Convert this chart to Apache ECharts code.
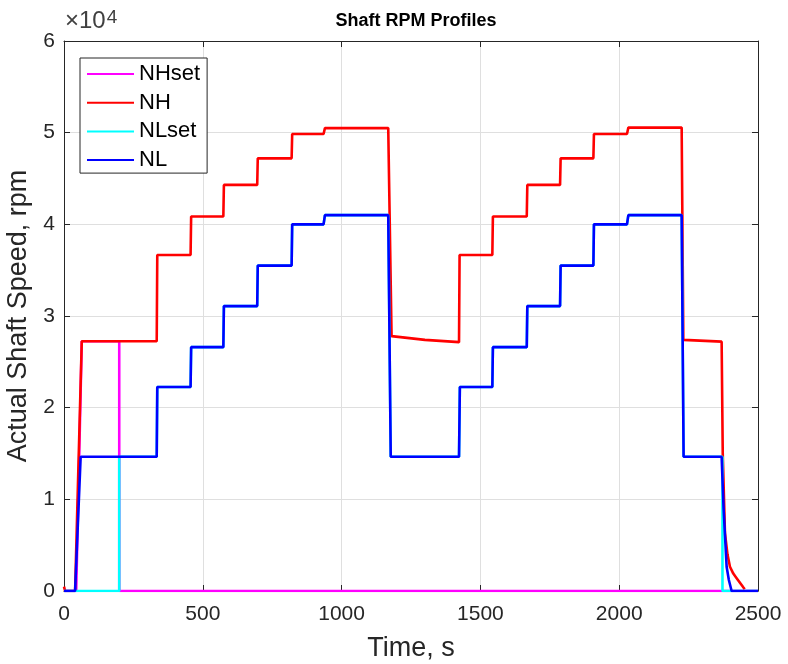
<!DOCTYPE html>
<html>
<head>
<meta charset="utf-8">
<script src="https://cdn.jsdelivr.net/npm/echarts@6/dist/echarts.min.js"></script>
<style>
  html, body { margin: 0; padding: 0; background: #fff; }
  #main { width: 788px; height: 664px; }
</style>
</head>
<body>
<div id="main"></div>
<script>
// series names (legend order = draw order)
const seriesNames = ['NHset', 'NH', 'NLset', 'NL'];
const seriesColors = ['#ff00ff', '#ff0000', '#00ffff', '#0000ff'];

// [time s, rpm]
const nhSetPoints = [
  [0, 0], [44, 0], [64, 27250], [199, 27250], [199, 0], [2500, 0]
];

const nhPoints = [
  [0, 470], [4, 0], [40, 0], [64, 27250], [334, 27250],
  [336, 36650], [456, 36650], [458, 40850], [574, 40850],
  [576, 44300], [696, 44300], [698, 47200], [820, 47200],
  [822, 49850], [935, 49850], [940, 50500], [1168, 50500],
  [1180, 27800], [1300, 27400], [1423, 27150],
  [1425, 36650], [1543, 36650], [1545, 40850], [1667, 40850],
  [1669, 44300], [1787, 44300], [1789, 47200], [1907, 47200],
  [1909, 49850], [2028, 49850], [2033, 50550], [2225, 50550],
  [2231, 27400], [2369, 27200], [2373, 15000], [2381, 6300],
  [2390, 4000], [2399, 2650], [2411, 1900], [2423, 1400],
  [2435, 900], [2447, 400], [2452, 200]
];

const nlSetPoints = [
  [0, 0], [199, 0], [199, 14650], [334, 14650],
  [336, 22250], [456, 22250], [458, 26600], [574, 26600],
  [576, 31080], [696, 31080], [698, 35500], [820, 35500],
  [822, 40000], [935, 40000], [940, 41000], [1168, 41000],
  [1177, 14650], [1423, 14650], [1426, 22250], [1543, 22250],
  [1545, 26600], [1667, 26600], [1669, 31080], [1787, 31080],
  [1789, 35500], [1907, 35500], [1909, 40000], [2028, 40000],
  [2033, 41000], [2225, 41000], [2232, 14650], [2372, 14650],
  [2372, 0], [2500, 0]
];

const nlPoints = [
  [0, 0], [40, 0], [60, 14650], [334, 14650],
  [336, 22250], [456, 22250], [458, 26600], [574, 26600],
  [576, 31080], [696, 31080], [698, 35500], [820, 35500],
  [822, 40000], [935, 40000], [940, 41000], [1168, 41000],
  [1177, 14650], [1423, 14650], [1426, 22250], [1543, 22250],
  [1545, 26600], [1667, 26600], [1669, 31080], [1787, 31080],
  [1789, 35500], [1907, 35500], [1909, 40000], [2028, 40000],
  [2033, 41000], [2225, 41000], [2232, 14650], [2369, 14650],
  [2376, 9000], [2387, 2650], [2395, 1200], [2405, 0], [2500, 0]
];

const allPoints = [nhSetPoints, nhPoints, nlSetPoints, nlPoints];

const axisColor = '#262626';
const fontFamily = '"Liberation Sans", Arial, Helvetica, sans-serif';

const chart = echarts.init(document.getElementById('main'), null, { renderer: 'canvas' });

const series = seriesNames.map((name, i) => ({
  name: name,
  type: 'line',
  data: allPoints[i],
  symbol: 'none',
  animation: false,
  lineStyle: { color: seriesColors[i], width: 2.6 },
  itemStyle: { color: seriesColors[i] }
}));

chart.setOption({
  animation: false,
  textStyle: { fontFamily: fontFamily },
  title: {
    text: 'Shaft RPM Profiles',
    left: 411,
    top: 7,
    textAlign: 'center',
    textStyle: { fontSize: 18, fontWeight: 'bold', color: '#000', fontFamily: fontFamily }
  },
  graphic: [{
    type: 'text',
    left: 65,
    top: 8,
    style: {
      text: '{a|×10}{b|4}',
      rich: {
        a: { fontSize: 24, fill: '#404040', fontFamily: fontFamily },
        b: { fontSize: 19, fill: '#404040', fontFamily: fontFamily, verticalAlign: 'top', padding: [0, 0, 8, 1] }
      }
    }
  }],
  legend: {
    data: seriesNames,
    orient: 'vertical',
    left: 80,
    top: 58,
    itemWidth: 47,
    itemHeight: 22,
    itemGap: 6.7,
    padding: [5, 7, 2, 6],
    borderColor: axisColor,
    borderWidth: 1,
    backgroundColor: '#fff',
    itemStyle: { opacity: 0 },
    textStyle: { fontSize: 22, color: '#000', fontFamily: fontFamily, padding: [0, 0, 0, 0] }
  },
  grid: { left: 64, right: 30, top: 41, bottom: 73, outerBoundsMode: 'none' },
  xAxis: [{
    type: 'value',
    min: 0, max: 2500, interval: 500,
    name: 'Time, s',
    nameLocation: 'middle',
    nameGap: 44,
    nameTextStyle: { fontSize: 27, color: axisColor, fontFamily: fontFamily },
    axisLine: { show: true, onZero: false, lineStyle: { color: axisColor, width: 1 } },
    axisTick: { show: true, inside: true, length: 6, lineStyle: { color: axisColor } },
    axisLabel: {
      fontSize: 21, color: axisColor, margin: 13, fontFamily: fontFamily,
      formatter: v => String(v)
    },
    splitLine: { show: true, lineStyle: { color: '#dfdfdf', width: 1 } }
  }, {
    type: 'value',
    position: 'top',
    min: 0, max: 2500, interval: 500,
    axisLine: { show: true, onZero: false, lineStyle: { color: axisColor, width: 1 } },
    axisTick: { show: true, inside: true, length: 6, lineStyle: { color: axisColor } },
    axisLabel: { show: false },
    splitLine: { show: false }
  }],
  yAxis: [{
    type: 'value',
    min: 0, max: 60000, interval: 10000,
    name: 'Actual Shaft Speed, rpm',
    nameLocation: 'middle',
    nameGap: 32,
    nameTextStyle: { fontSize: 27, color: axisColor, fontFamily: fontFamily },
    axisLine: { show: true, onZero: false, lineStyle: { color: axisColor, width: 1 } },
    axisTick: { show: true, inside: true, length: 6, lineStyle: { color: axisColor } },
    axisLabel: {
      fontSize: 21, color: axisColor, margin: 9, fontFamily: fontFamily,
      formatter: v => String(v / 10000)
    },
    splitLine: { show: true, lineStyle: { color: '#dfdfdf', width: 1 } }
  }, {
    type: 'value',
    position: 'right',
    min: 0, max: 60000, interval: 10000,
    axisLine: { show: true, onZero: false, lineStyle: { color: axisColor, width: 1 } },
    axisTick: { show: true, inside: true, length: 6, lineStyle: { color: axisColor } },
    axisLabel: { show: false },
    splitLine: { show: false }
  }],
  series: series
});
</script>
</body>
</html>
